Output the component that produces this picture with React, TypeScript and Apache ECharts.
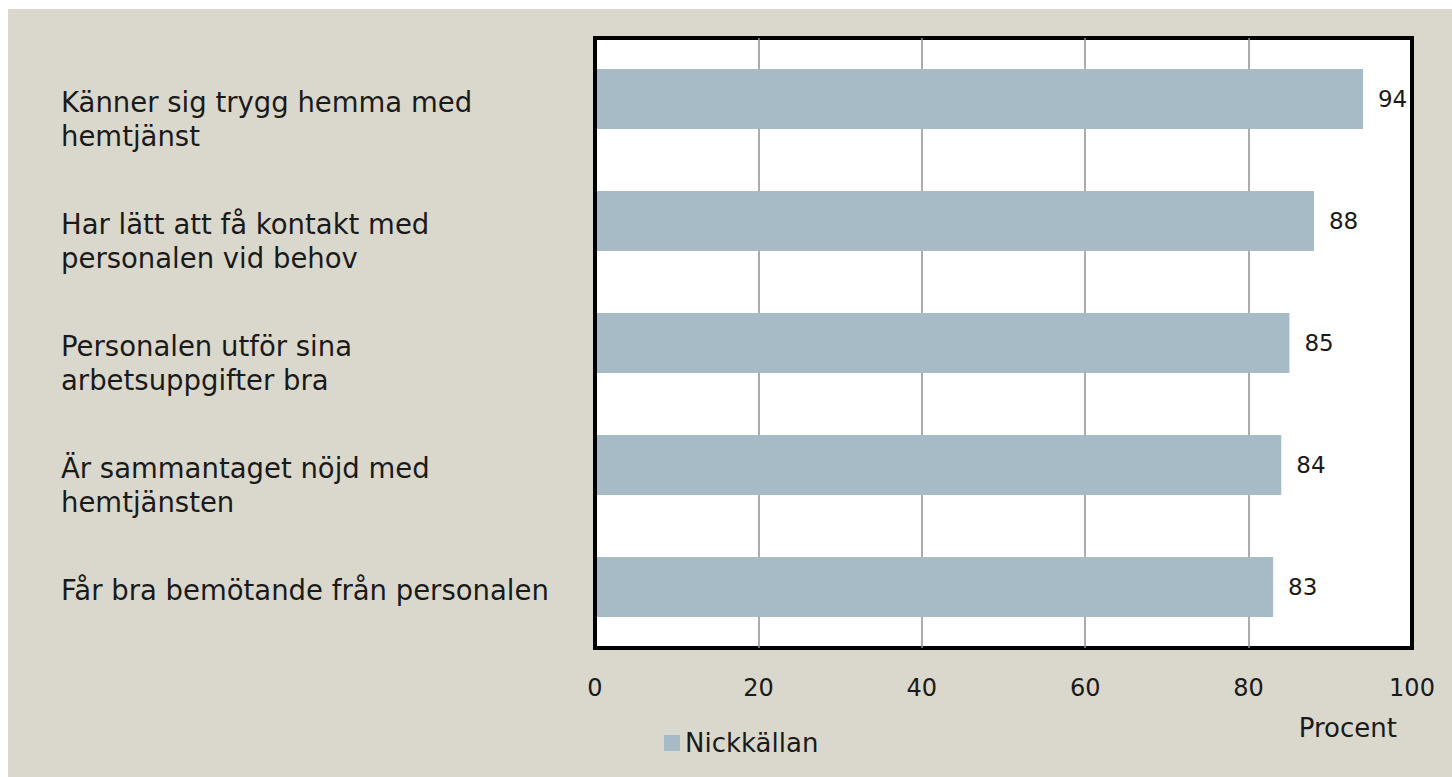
import React, { useEffect, useRef } from "react";
import * as echarts from "echarts";

const categories: string[] = [
  "Känner sig trygg hemma med\nhemtjänst",
  "Har lätt att få kontakt med\npersonalen vid behov",
  "Personalen utför sina\narbetsuppgifter bra",
  "Är sammantaget nöjd med\nhemtjänsten",
  "Får bra bemötande från personalen",
];
const values: number[] = [94, 88, 85, 84, 83];
const seriesName = "Nickkällan";
const axisName = "Procent";

const FONT = "'DejaVu Sans', sans-serif";
const TEXT = "#1a1a1a";

export default function App() {
  const ref = useRef<HTMLDivElement>(null);
  useEffect(() => {
    if (!ref.current) return;
    const chart = echarts.init(ref.current, undefined, { renderer: "svg" });
    chart.setOption({
      animation: false,
      backgroundColor: "#dad8cc",
      textStyle: { fontFamily: FONT, color: TEXT },
      legend: {
        left: 656,
        top: 721,
        padding: 0,
        itemWidth: 16,
        itemHeight: 16,
        itemGap: 10,
        icon: "rect",
        textStyle: { fontFamily: FONT, fontSize: 26, color: TEXT },
        data: [seriesName],
      },
      grid: {
        left: 587,
        right: 40,
        top: 29,
        bottom: 129,
        outerBoundsMode: "none",
        containLabel: false,
        show: true,
        backgroundColor: "#ffffff",
        borderColor: "#000000",
        borderWidth: 4,
      },
      xAxis: {
        type: "value",
        min: 0,
        max: 100,
        interval: 20,
        axisLine: { show: false },
        axisTick: { show: false },
        splitLine: {
          show: true,
          showMinLine: false,
          showMaxLine: false,
          lineStyle: { color: "#8f8f8f", width: 1.5 },
        },
        axisLabel: { fontFamily: FONT, fontSize: 24, color: TEXT, margin: 28 },
        name: axisName,
        nameLocation: "end",
        nameGap: -15,
        nameMoveOverlap: false,
        nameTextStyle: {
          fontFamily: FONT,
          fontSize: 26,
          lineHeight: 160,
          color: TEXT,
          align: "right",
          verticalAlign: "top",
        },
      },
      yAxis: {
        type: "category",
        inverse: true,
        data: categories,
        z: 5,
        axisLine: { show: true, lineStyle: { color: "#000000", width: 4 } },
        axisTick: { show: false },
        splitLine: { show: false },
        axisLabel: {
          interval: 0,
          fontFamily: FONT,
          color: TEXT,
          align: "left",
          margin: 534,
          formatter: (v: string) => {
            const lines = v.split("\n");
            if (lines.length === 1) lines.push(" ");
            return "{s| }\n" + lines.map((l) => "{t|" + l + "}").join("\n");
          },
          rich: {
            s: { fontSize: 10, lineHeight: 40 },
            t: { fontFamily: FONT, fontSize: 27.5, lineHeight: 34, color: TEXT },
          },
        },
      },
      series: [
        {
          name: seriesName,
          type: "bar",
          data: values,
          barWidth: 60,
          itemStyle: { color: "#a7bbc6" },
          label: {
            show: true,
            position: "right",
            distance: 15,
            fontFamily: FONT,
            fontSize: 23,
            color: TEXT,
          },
        },
      ],
    });
    return () => chart.dispose();
  }, []);
  return (
    <div
      ref={ref}
      style={{ position: "fixed", left: 8, top: 9, width: 1444, height: 768 }}
    />
  );
}
